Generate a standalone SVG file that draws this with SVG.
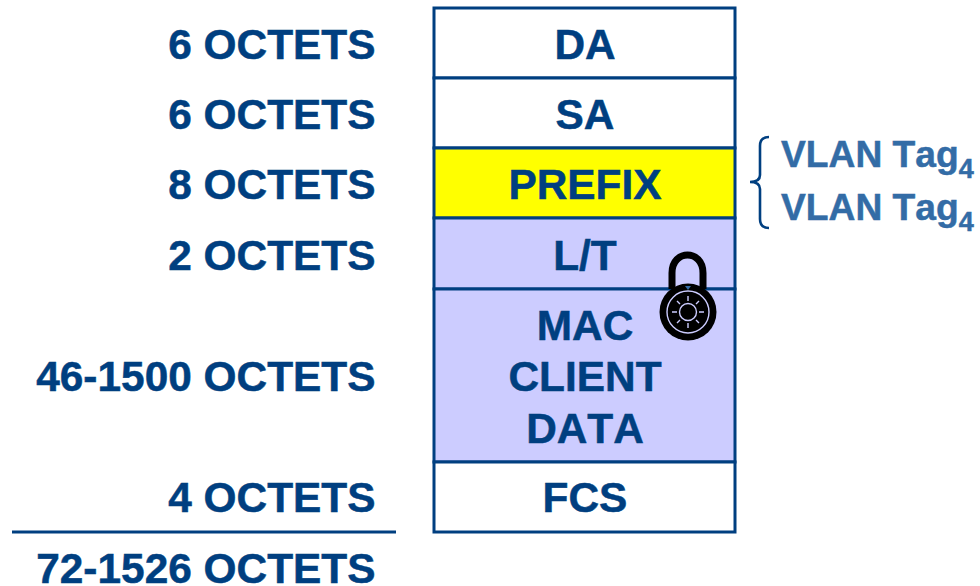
<svg xmlns="http://www.w3.org/2000/svg" width="980" height="586" viewBox="0 0 980 586">
<style>
text{font-family:"Liberation Sans",Arial,sans-serif;font-weight:700;font-size:42.4px;fill:#003f80;stroke:#003f80;stroke-width:.5px;font-kerning:none}
.l{text-anchor:end}
.c{text-anchor:middle}
.v{fill:#336ca6;stroke:#336ca6;font-size:37.2px}
.s{font-size:27px}
.b{stroke:#003f80;stroke-width:3;fill:#fff}
.p{fill:#ccccff}
.y{fill:#ffff00}
</style>
<rect width="980" height="586" fill="#fff"/>
<g id="field-da"><rect class="b" x="434" y="8" width="301" height="70"/><text class="c" x="585" y="59">DA</text></g>
<g id="field-sa"><rect class="b" x="434" y="78" width="301" height="70"/><text class="c" x="585" y="129">SA</text></g>
<g id="field-prefix"><rect class="b y" x="434" y="148" width="301" height="70"/><text class="c" x="585" y="199">PREFIX</text></g>
<g id="field-lt"><rect class="b p" x="434" y="218" width="301" height="71"/><text class="c" x="585" y="270">L/T</text></g>
<g id="field-data"><rect class="b p" x="434" y="289" width="301" height="173"/><text class="c" x="585" y="340">MAC</text><text class="c" x="585" y="391">CLIENT</text><text class="c" x="585" y="443">DATA</text></g>
<g id="field-fcs"><rect class="b" x="434" y="462" width="301" height="70"/><text class="c" x="585" y="512">FCS</text></g>
<g id="labels">
<text class="l" x="375.500" y="59">6 OCTETS</text>
<text class="l" x="375.500" y="129">6 OCTETS</text>
<text class="l" x="375.500" y="199">8 OCTETS</text>
<text class="l" x="375.500" y="270">2 OCTETS</text>
<text class="l" x="375.500" y="391">46-1500 OCTETS</text>
<text class="l" x="375.500" y="512">4 OCTETS</text>
<text class="l" x="375.500" y="583">72-1526 OCTETS</text>
</g>
<g id="connectors">
<line x1="12" y1="532" x2="396" y2="532" stroke="#003f80" stroke-width="3"/>
<path d="M769 137Q760 137 760 146V175Q760 182 750 182Q760 182 760 189V219Q760 228 769 228" fill="none" stroke="#003f80" stroke-width="2.600"/>
</g>
<g id="vlan-tags">
<text class="v" x="781" y="167">VLAN Tag<tspan class="s" dy="11">4</tspan></text>
<text class="v" x="781" y="220">VLAN Tag<tspan class="s" dy="11">4</tspan></text>
</g>
<g id="lock">
<path d="M672 289V273C672 249 703 249 703 273V289" fill="none" stroke="#000" stroke-width="7"/>
<circle cx="688" cy="312" r="28.500"/>
<circle cx="688" cy="312" r="21" fill="none" stroke="#ccccff" stroke-width="1.400"/>
<circle cx="688" cy="312" r="8.500" fill="none" stroke="#ccccff" stroke-width="1.400"/>
<path d="M688 296v5M688 323v5M672 312h5M699 312h5M677 301l3 3M696 320l3 3M699 301l-3 3M680 320l-3 3" stroke="#ccccff" stroke-width="1.400" fill="none"/>
<path d="M685 286h6l-3 4z" fill="#336ca6"/>
</g>
</svg>
